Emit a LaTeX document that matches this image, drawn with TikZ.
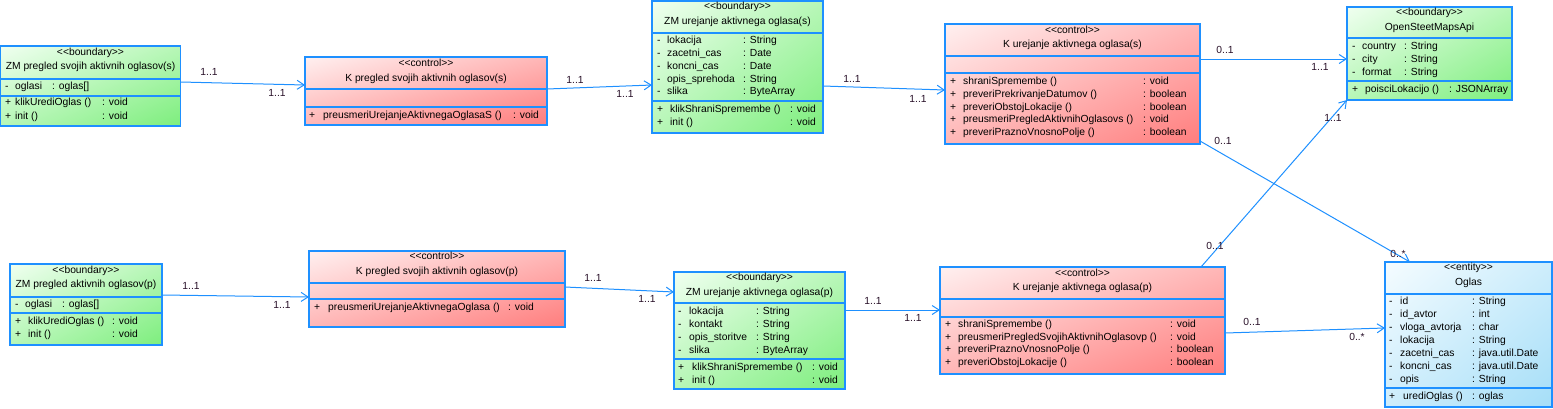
\documentclass[tikz,border=0pt]{standalone}
\usepackage{fontspec}
\setmainfont{Liberation Sans}
\usetikzlibrary{arrows.meta,shadings}
\definecolor{bdr}{RGB}{30,144,255}
\definecolor{bdA}{RGB}{240,255,240}
\definecolor{bdB}{RGB}{125,238,125}
\colorlet{bdM}{bdA!50!bdB}
\definecolor{ctA}{RGB}{255,240,240}
\definecolor{ctB}{RGB}{255,125,125}
\colorlet{ctM}{ctA!50!ctB}
\definecolor{enA}{RGB}{245,252,255}
\definecolor{enB}{RGB}{165,222,248}
\colorlet{enM}{enA!50!enB}
\definecolor{labc}{RGB}{40,16,40}
\newcounter{tn}
\newcommand\mytl[3]{\stepcounter{tn}\node[txt,anchor=west] (t\arabic{tn}) at (#1,#2) {#3};}
\newcommand\mytc[3]{\stepcounter{tn}\node[txt,anchor=center] (t\arabic{tn}) at (#1,#2) {#3};}
\newcommand\mystereo[1]{<{}<#1>{}>}
% sym, xsym, xname, xtype, y, name, type
\newcommand\myrow[7]{\mytl{#2}{#5}{#1}\mytl{#3}{#5}{#6}\mytl{#4}{#5}{#7}}
\newcommand\mysep[2]{\draw[sepl] (#1.west |- 0,#2) -- (#1.east |- 0,#2);}
\tikzset{
  txt/.style={font=\fontsize{10.3}{12}\selectfont, inner sep=0pt, text height=7.5pt, text depth=2pt},
  cls/.style={draw=bdr, line width=1.2pt, inner sep=0pt, outer sep=0pt, anchor=north west},
  bnd/.style={cls, upper left=bdA, upper right=bdM, lower left=bdM, lower right=bdB},
  ctl/.style={cls, upper left=ctA, upper right=ctM, lower left=ctM, lower right=ctB},
  ent/.style={cls, upper left=enA, upper right=enM, lower left=enM, lower right=enB},
  sepl/.style={draw=bdr, line width=1.2pt},
  assoc/.style={draw=bdr, line width=1pt, -{Straight Barb[length=7pt,width=9pt,line width=1pt]}},
  lab/.style={txt, text=labc, anchor=center}
}
\begin{document}
\begin{tikzpicture}[x=1pt,y=-1pt]
\useasboundingbox (0,0) rectangle (1553,408);

% ---------- B1
\node[bnd, minimum width=180pt, minimum height=80pt] (b1) at (0.6,46) {};
\mysep{b1}{79}\mysep{b1}{96}
\mytc{90.5}{53}{\mystereo{boundary}}
\mytc{90.5}{67}{ZM pregled svojih aktivnih oglasov(s)}
\myrow{-}{5}{15}{52}{87}{oglasi}{: oglas[]}
\myrow{+}{5}{15}{102}{103}{klikUrediOglas ()}{: void}
\myrow{+}{5}{15}{102}{117}{init ()}{: void}

% ---------- B2
\node[ctl, minimum width=242pt, minimum height=68pt] (b2) at (305,57) {};
\mysep{b2}{89}\mysep{b2}{107}
\mytc{426}{64}{\mystereo{control}}
\mytc{426}{79}{K pregled svojih aktivnih oglasov(s)}
\myrow{+}{309}{323}{513}{116}{preusmeriUrejanjeAktivnegaOglasaS ()}{: void}

% ---------- B3
\node[bnd, minimum width=171pt, minimum height=132pt] (b3) at (652,1) {};
\mysep{b3}{33}\mysep{b3}{101}
\mytc{737.5}{7}{\mystereo{boundary}}
\mytc{737.5}{22}{ZM urejanje aktivnega oglasa(s)}
\myrow{-}{657}{667}{743}{41}{lokacija}{: String}
\myrow{-}{657}{667}{743}{54}{zacetni\_cas}{: Date}
\myrow{-}{657}{667}{743}{67}{koncni\_cas}{: Date}
\myrow{-}{657}{667}{743}{80}{opis\_sprehoda}{: String}
\myrow{-}{657}{667}{743}{92}{slika}{: ByteArray}
\myrow{+}{657}{670}{790}{110}{klikShraniSpremembe ()}{: void}
\myrow{+}{657}{670}{790}{123}{init ()}{: void}

% ---------- B4
\node[ctl, minimum width=255pt, minimum height=120pt] (b4) at (945,24) {};
\mysep{b4}{56}\mysep{b4}{73}
\mytc{1072.5}{31}{\mystereo{control}}
\mytc{1072.5}{45}{K urejanje aktivnega oglasa(s)}
\myrow{+}{950}{963}{1143}{82}{shraniSpremembe ()}{: void}
\myrow{+}{950}{963}{1143}{95}{preveriPrekrivanjeDatumov ()}{: boolean}
\myrow{+}{950}{963}{1143}{108}{preveriObstojLokacije ()}{: boolean}
\myrow{+}{950}{963}{1143}{120}{preusmeriPregledAktivnihOglasovs ()}{: void}
\myrow{+}{950}{963}{1143}{133}{preveriPraznoVnosnoPolje ()}{: boolean}

% ---------- B5
\node[bnd, minimum width=165pt, minimum height=93pt] (b5) at (1347,7) {};
\mysep{b5}{38}\mysep{b5}{81}
\mytc{1429.5}{13}{\mystereo{boundary}}
\mytc{1429.5}{28}{OpenSteetMapsApi}
\myrow{-}{1352}{1362}{1404}{47}{country}{: String}
\myrow{-}{1352}{1362}{1404}{60}{city}{: String}
\myrow{-}{1352}{1362}{1404}{73}{format}{: String}
\myrow{+}{1352}{1365}{1449}{90}{poisciLokacijo ()}{: JSONArray}

% ---------- B6
\node[ent, minimum width=167pt, minimum height=145pt] (b6) at (1385,262) {};
\mysep{b6}{294}\mysep{b6}{388}
\mytc{1468.5}{268}{\mystereo{entity}}
\mytc{1468.5}{283}{Oglas}
\myrow{-}{1389}{1400}{1472}{302}{id}{: String}
\myrow{-}{1389}{1400}{1472}{315}{id\_avtor}{: int}
\myrow{-}{1389}{1400}{1472}{328}{vloga\_avtorja}{: char}
\myrow{-}{1389}{1400}{1472}{341}{lokacija}{: String}
\myrow{-}{1389}{1400}{1472}{354}{zacetni\_cas}{: java.util.Date}
\myrow{-}{1389}{1400}{1472}{367}{koncni\_cas}{: java.util.Date}
\myrow{-}{1389}{1400}{1472}{380}{opis}{: String}
\myrow{+}{1389}{1403}{1472}{397}{urediOglas ()}{: oglas}

% ---------- B7
\node[bnd, minimum width=152pt, minimum height=81pt] (b7) at (10,264) {};
\mysep{b7}{297}\mysep{b7}{313}
\mytc{86}{271}{\mystereo{boundary}}
\mytc{86}{285}{ZM pregled aktivnih oglasov(p)}
\myrow{-}{15}{25}{62}{305}{oglasi}{: oglas[]}
\myrow{+}{15}{28}{112}{322}{klikUrediOglas ()}{: void}
\myrow{+}{15}{28}{112}{335}{init ()}{: void}

% ---------- B8
\node[ctl, minimum width=256pt, minimum height=76pt] (b8) at (309,251) {};
\mysep{b8}{283}\mysep{b8}{299}
\mytc{437}{257}{\mystereo{control}}
\mytc{437}{272}{K pregled svojih aktivnih oglasov(p)}
\myrow{+}{314}{328}{508}{308}{preusmeriUrejanjeAktivnegaOglasa ()}{: void}

% ---------- B9
\node[bnd, minimum width=171pt, minimum height=117pt] (b9) at (674,272) {};
\mysep{b9}{303}\mysep{b9}{359}
\mytc{759.5}{278}{\mystereo{boundary}}
\mytc{759.5}{293}{ZM urejanje aktivnega oglasa(p)}
\myrow{-}{678}{689}{756}{312}{lokacija}{: String}
\myrow{-}{678}{689}{756}{325}{kontakt}{: String}
\myrow{-}{678}{689}{756}{338}{opis\_storitve}{: String}
\myrow{-}{678}{689}{756}{351}{slika}{: ByteArray}
\myrow{+}{678}{692}{812}{368}{klikShraniSpremembe ()}{: void}
\myrow{+}{678}{692}{812}{381}{init ()}{: void}

% ---------- B10
\node[ctl, minimum width=285pt, minimum height=107pt] (b10) at (940,267) {};
\mysep{b10}{299}\mysep{b10}{317}
\mytc{1082.5}{274}{\mystereo{control}}
\mytc{1082.5}{288}{K urejanje aktivnega oglasa(p)}
\myrow{+}{945}{958}{1170}{325}{shraniSpremembe ()}{: void}
\myrow{+}{945}{958}{1170}{338}{preusmeriPregledSvojihAktivnihOglasovp ()}{: void}
\myrow{+}{945}{958}{1170}{350}{preveriPraznoVnosnoPolje ()}{: boolean}
\myrow{+}{945}{958}{1170}{363}{preveriObstojLokacije ()}{: boolean}

% ---------- connectors
\draw[assoc] (b1.east |- 0,82) -- (b2.west |- 0,85);
\draw[assoc] (b2.east |- 0,89) -- (b3.west |- 0,85);
\draw[assoc] (b3.east |- 0,86) -- (b4.west |- 0,90);
\draw[assoc] (b4.east |- 0,59) -- (b5.west |- 0,59);
\draw[assoc] (b4.east |- 0,141) -- (b6.north -| 1410,0);
\draw[assoc] (b10.north -| 1201,0) -- (b5.south west);
\draw[assoc] (b10.east |- 0,333) -- (b6.west |- 0,328);
\draw[assoc] (b7.east |- 0,295) -- (b8.west |- 0,297);
\draw[assoc] (b8.east |- 0,287) -- (b9.west |- 0,292);
\draw[assoc] (b9.east |- 0,310) -- (b10.west |- 0,310);

% ---------- multiplicities
\node[lab] (l1) at (209,73) {1..1};
\node[lab] (l2) at (277,94) {1..1};
\node[lab] (l3) at (575,81) {1..1};
\node[lab] (l4) at (625,95) {1..1};
\node[lab] (l5) at (852,80) {1..1};
\node[lab] (l6) at (918,100) {1..1};
\node[lab] (l7) at (1225,51) {0..1};
\node[lab] (l8) at (1320,68) {1..1};
\node[lab] (l9) at (1223,142) {0..1};
\node[lab] (l10) at (1398,255) {0..*};
\node[lab] (l11) at (1215,247) {0..1};
\node[lab] (l12) at (1333,119) {1..1};
\node[lab] (l13) at (1252,323) {0..1};
\node[lab] (l14) at (1357,338) {0..*};
\node[lab] (l15) at (191,287) {1..1};
\node[lab] (l16) at (282,306) {1..1};
\node[lab] (l17) at (593,279) {1..1};
\node[lab] (l18) at (647,300) {1..1};
\node[lab] (l19) at (873,302) {1..1};
\node[lab] (l20) at (913,319) {1..1};
\end{tikzpicture}
\end{document}
